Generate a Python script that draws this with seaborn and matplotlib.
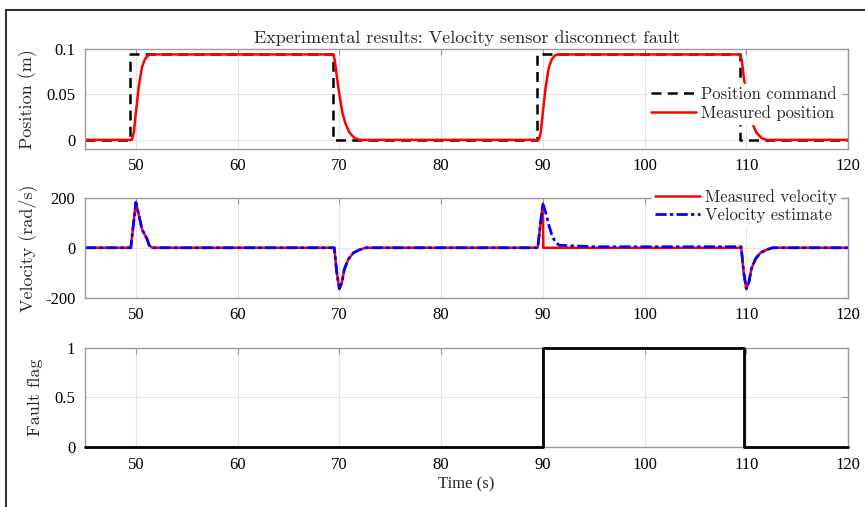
import numpy as np
import pandas as pd
import seaborn as sns
import matplotlib
matplotlib.use('Agg')
from matplotlib import pyplot as plt
from matplotlib.patches import Rectangle

# position command (m) - step changes
cmd_t = [45, 49.4, 49.4, 69.4, 69.4, 89.4, 89.4, 109.4, 109.4, 120]
cmd_pos = [0, 0, 0.094, 0.094, 0, 0, 0.094, 0.094, 0, 0]

# measured position (m)
pos_t = [45, 49.6, 49.8, 50.0, 50.3, 50.6, 50.9, 51.2, 51.5, 69.4, 69.55, 69.75, 70.0,
         70.3, 70.6, 71.0, 71.5, 72.0, 89.6, 89.8, 90.0, 90.3, 90.6, 90.9, 91.2, 91.5,
         109.4, 109.55, 109.75, 110.0, 110.3, 110.6, 111.0, 111.5, 112.0, 120]
pos_meas = [0, 0, 0.008, 0.03, 0.06, 0.08, 0.089, 0.093, 0.094, 0.094, 0.088, 0.07, 0.05,
            0.03, 0.018, 0.008, 0.002, 0, 0, 0.008, 0.03, 0.06, 0.08, 0.089, 0.093, 0.094,
            0.094, 0.088, 0.07, 0.05, 0.03, 0.018, 0.008, 0.002, 0, 0]

# measured velocity (rad/s) - sensor goes to zero at 90 s
vel_t = [45, 49.5, 50.0, 50.3, 50.6, 50.9, 51.1, 51.3, 51.6, 69.5, 69.75, 70.0, 70.25,
         70.5, 70.9, 71.4, 72.0, 72.6, 89.5, 90.0, 90.05, 109.5, 109.75, 110.0, 110.25,
         110.5, 110.9, 111.4, 112.0, 112.6, 120]
vel_meas = [0, 0, 182, 130, 75, 50, 35, 10, 0, 0, -100, -165, -140,
            -85, -45, -20, -8, 0, 0, 178, 0, 0, -100, -165, -140,
            -85, -45, -20, -8, 0, 0]

# velocity estimate (rad/s)
est_t = [45, 49.5, 50.0, 50.3, 50.6, 50.9, 51.1, 51.3, 51.6, 69.5, 69.75, 70.0, 70.25,
         70.5, 70.9, 71.4, 72.0, 72.6, 89.5, 90.0, 90.3, 90.6, 90.9, 91.2, 91.6, 95.0,
         109.5, 109.75, 110.0, 110.25, 110.5, 110.9, 111.4, 112.0, 112.6, 120]
vel_est = [0, 0, 182, 130, 75, 50, 35, 10, 0, 0, -100, -165, -140,
           -85, -45, -20, -8, 0, 0, 178, 140, 90, 50, 25, 10, 4,
           4, -100, -165, -140, -85, -45, -20, -8, 0, 0]

# fault flag
flag_t = [45, 90.0, 90.0, 109.75, 109.75, 120]
flag = [0, 0, 1, 1, 0, 0]

xticks = [50, 60, 70, 80, 90, 100, 110, 120]

sns.set_style('whitegrid', {'grid.color': '#e4e4e4', 'axes.edgecolor': '#9a9a9a'})
plt.rcParams['font.family'] = ['Liberation Serif', 'DejaVu Serif']
plt.rcParams['axes.linewidth'] = 1.0
cm = ['cmr10', 'DejaVu Serif']

fig, axes = plt.subplots(3, 1, figsize=(8.65, 5.07), dpi=100)
W, H = 865.0, 507.0
left, width = 85 / W, (848 - 85) / W
tops = [49, 198, 347.5]
for ax, top in zip(axes, tops):
    ax.set_position([left, 1 - (top + 99.5) / H, width, 99.5 / H])

ax1, ax2, ax3 = axes
sns.lineplot(x=cmd_t, y=cmd_pos, ax=ax1, estimator=None, sort=False, color='black',
             lw=1.8, linestyle=(0, (4, 2.5)), label='Position command')
sns.lineplot(x=pos_t, y=pos_meas, ax=ax1, estimator=None, sort=False, color='#ff0000',
             lw=1.8, label='Measured position')
ax1.set_ylim(-0.0095, 0.1)
ax1.set_yticks([0, 0.05, 0.1])
ax1.set_yticklabels(['0', '0.05', '0.1'])
ax1.set_ylabel('Position (m)', family=cm, fontsize=13)
ax1.set_title('Experimental results: Velocity sensor disconnect fault', family=cm,
              fontsize=13, pad=4)

sns.lineplot(x=vel_t, y=vel_meas, ax=ax2, estimator=None, sort=False, color='#ff0000',
             lw=1.8, label='Measured velocity')
sns.lineplot(x=est_t, y=vel_est, ax=ax2, estimator=None, sort=False, color='#0000ff',
             lw=2.0, linestyle=(0, (4, 1.2, 1.2, 1.2)), label='Velocity estimate')
ax2.set_ylim(-200, 200)
ax2.set_yticks([-200, 0, 200])
ax2.set_yticklabels(['-200', '0', '200'])
ax2.set_ylabel('Velocity (rad/s)', family=cm, fontsize=13)

sns.lineplot(x=flag_t, y=flag, ax=ax3, estimator=None, sort=False, color='black', lw=2,
             clip_on=False, zorder=4)
ax3.set_ylim(0, 1)
ax3.set_yticks([0, 0.5, 1])
ax3.set_yticklabels(['0', '0.5', '1'])
ax3.set_ylabel('Fault flag', family=cm, fontsize=13)
ax3.set_xlabel('Time (s)', fontsize=12)
ax3.xaxis.set_label_coords(0.5, -0.3)

for ax in axes:
    ax.set_xlim(45, 120)
    ax.set_xticks(xticks)
    ax.tick_params(direction='in', length=4, width=0.8, color='#9a9a9a', labelsize=12,
                   top=True, right=True, labelcolor='black', pad=7)
    ax.grid(True, color='#e4e4e4', lw=0.8)
    for s in ax.spines.values():
        s.set_visible(True)
        s.set_color('#9a9a9a')
    ax.yaxis.set_label_coords(-0.063, 0.5)
ax3.yaxis.set_label_coords(-0.055, 0.5)

leg_kw = dict(prop={'family': cm, 'size': 12}, frameon=True, fancybox=False,
              framealpha=1, edgecolor='white', facecolor='white', handlelength=2.7,
              handletextpad=0.3, borderpad=0.2, labelspacing=0.15, borderaxespad=0)
ax1.legend(loc='center right', bbox_to_anchor=(0.99, 0.45), **leg_kw)
ax2.legend(loc='center right', bbox_to_anchor=(0.99, 0.92), **leg_kw)

fig.add_artist(Rectangle((6 / W, -0.1), 1.0, 1.1 - 10 / H, transform=fig.transFigure,
                         fill=False, edgecolor='#333333', lw=1.5))

fig.savefig('out.png', dpi=100)
